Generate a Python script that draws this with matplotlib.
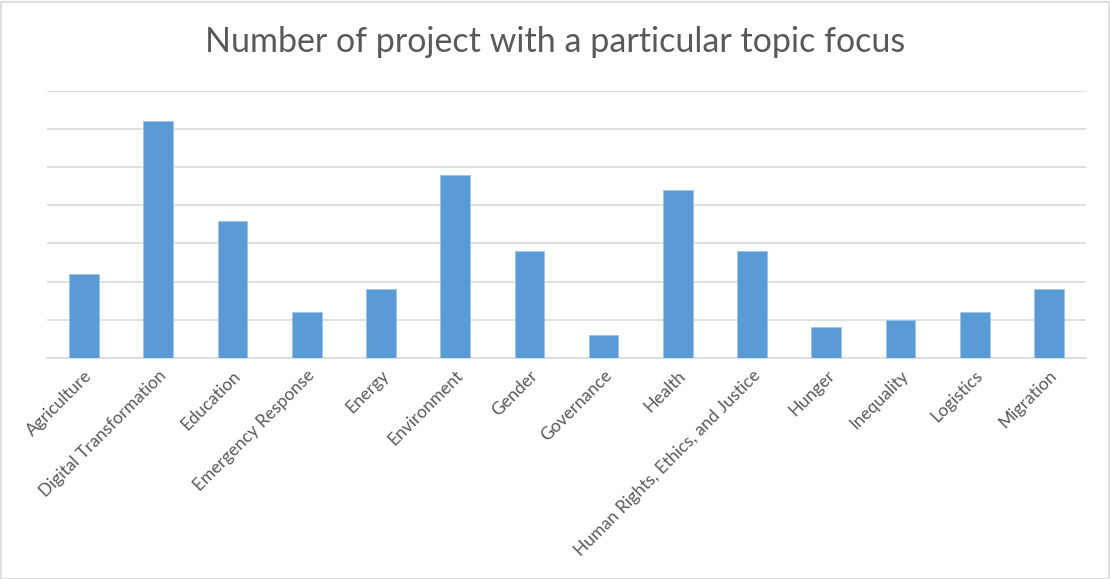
import matplotlib
matplotlib.use("Agg")
import matplotlib.pyplot as plt
from matplotlib.patches import Rectangle

categories = ["Agriculture", "Digital Transformation", "Education", "Emergency Response",
              "Energy", "Environment", "Gender", "Governance", "Health",
              "Human Rights, Ethics, and Justice", "Hunger", "Inequality", "Logistics", "Migration"]
values = [11, 31, 18, 6, 9, 24, 14, 3, 22, 14, 4, 5, 6, 9]
title = "Number of project with a particular topic focus"

plt.rcParams['font.family'] = ['Lato', 'DejaVu Sans']

fig = plt.figure(figsize=(11.10, 5.79), dpi=100)
W, H = 1110, 579
x0, x1 = 47, 1086
ytop, ybot = 91, 357.7
ax = fig.add_axes([x0 / W, 1 - ybot / H, (x1 - x0) / W, (ybot - ytop) / H])

xs = range(len(categories))
ax.bar(xs, values, width=0.4, color="#5b9bd5", edgecolor="#9dc3e6", linewidth=0.6, zorder=3)
ax.set_xlim(-0.5, len(categories) - 0.5)
ax.set_ylim(0, 35)
ax.set_yticks(range(0, 36, 5))
ax.yaxis.grid(True, color="#d9d9d9", linewidth=1.2, zorder=0)
ax.tick_params(axis="y", left=False, labelleft=False)
ax.tick_params(axis="x", length=0, pad=7)
ax.set_xticks(list(xs))
ax.set_xticklabels(categories, rotation=45, ha="right", rotation_mode="anchor",
                   fontsize=12.5, color="#595959")
for s in ["top", "right", "left"]:
    ax.spines[s].set_visible(False)
ax.spines["bottom"].set_color("#d9d9d9")
ax.spines["bottom"].set_linewidth(1.2)

fig.text(0.5, 1 - 42 / H, title, ha="center", va="center", fontsize=24.5, color="#595959")

fig.patches.append(Rectangle((0.5 / W, 0.5 / H), 1 - 2 / W, 1 - 2 / H, transform=fig.transFigure,
                             fill=False, edgecolor="#d9d9d9", linewidth=1.2))

fig.savefig("out.png", dpi=100, facecolor="white")
